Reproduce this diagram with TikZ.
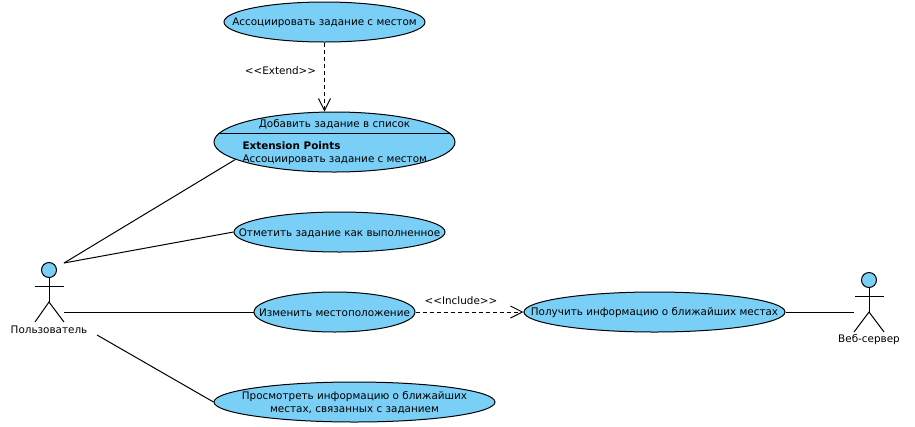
\documentclass[tikz,border=0pt]{standalone}
\usepackage{fontspec}
\setmainfont{DejaVu Sans}
\usetikzlibrary{arrows.meta,shapes.geometric}
\definecolor{ucblue}{RGB}{122,207,247}
\tikzset{
  usecase/.style={ellipse,draw,fill=ucblue,inner sep=0pt},
  lbl/.style={inner sep=0pt,yshift=-0.75pt,font=\fontsize{7.8}{9.8}\selectfont},
  dep/.style={dashed,dash pattern=on 3pt off 2.25pt,-{Straight Barb[length=9pt,width=9pt]}}
}
\begin{document}
\begin{tikzpicture}[x=0.75pt,y=-0.75pt,line width=0.75pt]
   \useasboundingbox (0,0) rectangle (915,426);
   % use cases
   \node [usecase,minimum width=150.75pt,minimum height=30pt] (assoc) at (324.5,22) {};
   \node [usecase,minimum width=180.75pt,minimum height=45pt] (add) at (334.5,142) {};
   \node [usecase,minimum width=158.25pt,minimum height=30pt] (done) at (339.5,232) {};
   \node [usecase,minimum width=120.75pt,minimum height=30pt] (move) at (334.5,312) {};
   \node [usecase,minimum width=195.75pt,minimum height=30pt] (info) at (654.5,312) {};
   \node [usecase,minimum width=210.75pt,minimum height=30pt] (view) at (354.5,402) {};
   \node [lbl] (assocT) at (324.5,22) {Ассоциировать задание с местом};
   \node [lbl] (doneT) at (339.5,232) {Отметить задание как выполненное};
   \node [lbl] (moveT) at (334.5,312) {Изменить местоположение};
   \node [lbl] (infoT) at (654.5,312) {Получить информацию о ближайших местах};
   \node [lbl,align=center] (viewT) at (354.5,402) {Просмотреть информацию о ближайших\\местах, связанных с заданием};
   % compartments of add
   \node [lbl] (addT) at (334.5,123) {Добавить задание в список};
   \draw (add.176) -- (add.4);
   \node [lbl,anchor=west] (extT) at (242,145) {\bfseries Extension Points};
   \node [lbl,anchor=west] (extP) at (242,159) {Ассоциировать задание с местом};
   % actors
   \node [circle,draw,fill=ucblue,inner sep=0pt,minimum size=11.25pt] (userH) at (49,270) {};
   \coordinate (userB) at (49,302);
   \draw (userH) -- (userB);
   \draw (35,286) -- (64,286);
   \draw (35,322) -- (userB) -- (64,322);
   \node [lbl] (user) at (49,329) {Пользователь};
   \node [circle,draw,fill=ucblue,inner sep=0pt,minimum size=11.25pt] (webH) at (869,280) {};
   \coordinate (webB) at (869,312);
   \draw (webH) -- (webB);
   \draw (855,296) -- (884,296);
   \draw (854,332) -- (webB) -- (884,332);
   \node [lbl] (web) at (869,339) {Веб-сервер};
   % connectors
   \coordinate (userT) at (64,263);
   \coordinate (userM) at (64,312);
   \coordinate (userL) at (97,335);
   \coordinate (webL) at (854,312);
   \draw (userT) -- (add.190);
   \draw (userT) -- (done.west);
   \draw (userM) -- (move.west);
   \draw (userL) -- (view.west);
   \draw (info.east) -- (webL);
   \draw [dep] (assoc.south) -- node [lbl,pos=0.39,xshift=-33pt] (extL) {<{}<Extend>{}>} (add.north -| assoc.south);
   \draw [dep] (move.east) -- node [lbl,above=6pt,xshift=-6.4pt] (incL) {<{}<Include>{}>} (info.west);
\end{tikzpicture}
\end{document}
